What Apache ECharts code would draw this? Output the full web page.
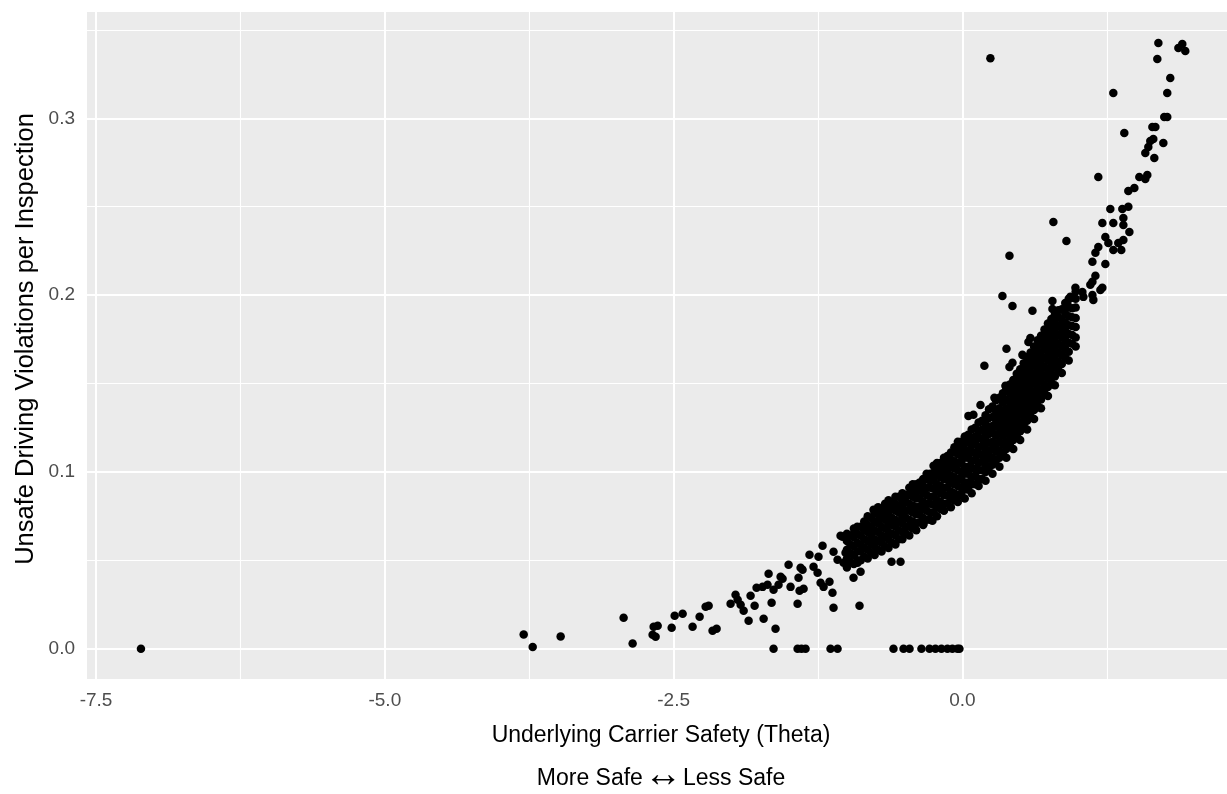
<!DOCTYPE html>
<html>
<head>
<meta charset="utf-8">
<title>Unsafe Driving Violations vs Carrier Safety</title>
<script src="https://cdn.jsdelivr.net/npm/echarts@6/dist/echarts.min.js"></script>
<style>
  html, body { margin: 0; padding: 0; background: #ffffff; }
  #chart { width: 1227px; height: 794px; }
</style>
</head>
<body>
<div id="chart"></div>
<script>
// Axis ticks and grid
const xTicks = [-7.5, -5.0, -2.5, 0.0];
const xMinorTicks = [-6.25, -3.75, -1.25, 1.25];
const yTicks = [0.0, 0.1, 0.2, 0.3];
const yMinorTicks = [0.05, 0.15, 0.25, 0.35];

// Carriers with no unsafe driving violations (theta)
const zeroTheta = [-7.111, -1.635, -1.427, -1.393, -1.358, -1.142, -1.081, -0.597, -0.510, -0.458,
  -0.355, -0.285, -0.234, -0.182, -0.130, -0.087, -0.043, -0.026];

// Sparse lower tail: [theta, violations per inspection]
const tailPoints = [
  [-3.798, 0.008], [-3.720, 0.001], [-3.478, 0.007], [-2.933, 0.0175], [-2.855, 0.003],
  [-2.673, 0.0124], [-2.682, 0.0079], [-2.656, 0.0068], [-2.638, 0.013], [-2.517, 0.0119],
  [-2.491, 0.0187], [-2.422, 0.0198], [-2.336, 0.0124], [-2.275, 0.0181], [-2.223, 0.0237],
  [-2.197, 0.0243], [-2.163, 0.0102], [-2.128, 0.0113], [-2.007, 0.0254], [-1.964, 0.0305],
  [-1.946, 0.0277], [-1.920, 0.0249], [-1.894, 0.0215], [-1.851, 0.0158], [-1.834, 0.030],
  [-1.799, 0.0243], [-1.782, 0.0345], [-1.721, 0.017], [-1.730, 0.035], [-1.687, 0.0362],
  [-1.678, 0.0424], [-1.652, 0.026], [-1.635, 0.0334], [-1.618, 0.0113], [-1.592, 0.0362],
  [-1.557, 0.0396], [-1.574, 0.0407], [-1.505, 0.0475], [-1.488, 0.035], [-1.427, 0.0254],
  [-1.419, 0.0401], [-1.410, 0.0328], [-1.401, 0.0458], [-1.384, 0.0447], [-1.375, 0.0339],
  [-1.324, 0.0531], [-1.289, 0.0464], [-1.254, 0.043], [-1.246, 0.052], [-1.228, 0.0373],
  [-1.211, 0.0582], [-1.202, 0.035], [-1.151, 0.0379], [-1.116, 0.0548], [-1.116, 0.0232],
  [-1.125, 0.0317], [-1.081, 0.0503], [-1.055, 0.0639], [-1.038, 0.0633], [-1.029, 0.0486],
  [-1.012, 0.0543], [-0.952, 0.0644], [-0.943, 0.0401], [-0.908, 0.0486], [-0.891, 0.0243],
  [-0.882, 0.0435], [-0.839, 0.0684], [-0.822, 0.0673], [-0.770, 0.0786], [-0.735, 0.0718],
  [-0.614, 0.0492], [-0.536, 0.0492], [-0.337, 0.0707], [-0.260, 0.0724]
];

// Dense core of the cloud, one column per theta value
const coreColumns = [
  [-1.00, [0.046, 0.051, 0.056, 0.061, 0.065]],
  [-0.94, [0.048, 0.053, 0.058, 0.063, 0.068]],
  [-0.88, [0.050, 0.055, 0.059, 0.064, 0.069]],
  [-0.82, [0.051, 0.056, 0.061, 0.066, 0.070, 0.075]],
  [-0.76, [0.053, 0.058, 0.062, 0.067, 0.072, 0.077]],
  [-0.70, [0.055, 0.060, 0.064, 0.069, 0.074, 0.079]],
  [-0.64, [0.057, 0.062, 0.066, 0.071, 0.076, 0.080, 0.084]],
  [-0.58, [0.059, 0.064, 0.069, 0.073, 0.078, 0.082, 0.086]],
  [-0.52, [0.062, 0.066, 0.071, 0.075, 0.080, 0.084, 0.088]],
  [-0.46, [0.064, 0.069, 0.073, 0.078, 0.082, 0.087, 0.091]],
  [-0.40, [0.067, 0.071, 0.076, 0.080, 0.085, 0.089, 0.093]],
  [-0.34, [0.070, 0.074, 0.079, 0.083, 0.088, 0.092, 0.096]],
  [-0.28, [0.073, 0.077, 0.082, 0.086, 0.091, 0.095, 0.099]],
  [-0.22, [0.075, 0.080, 0.084, 0.089, 0.093, 0.098, 0.102, 0.105]],
  [-0.16, [0.078, 0.082, 0.087, 0.091, 0.096, 0.100, 0.104, 0.108]],
  [-0.10, [0.080, 0.085, 0.089, 0.094, 0.098, 0.103, 0.107, 0.111]],
  [-0.04, [0.083, 0.087, 0.092, 0.096, 0.101, 0.105, 0.110, 0.114, 0.117]],
  [0.02, [0.085, 0.090, 0.094, 0.099, 0.103, 0.108, 0.112, 0.116, 0.120]],
  [0.08, [0.088, 0.093, 0.097, 0.102, 0.106, 0.111, 0.115, 0.119, 0.124]],
  [0.14, [0.092, 0.096, 0.101, 0.105, 0.110, 0.114, 0.119, 0.123, 0.128]],
  [0.20, [0.095, 0.100, 0.104, 0.109, 0.113, 0.118, 0.122, 0.127, 0.132]],
  [0.26, [0.099, 0.104, 0.108, 0.113, 0.117, 0.122, 0.126, 0.131, 0.137]],
  [0.32, [0.103, 0.108, 0.112, 0.117, 0.122, 0.126, 0.131, 0.136, 0.142]],
  [0.38, [0.108, 0.113, 0.117, 0.122, 0.127, 0.131, 0.136, 0.141, 0.147]],
  [0.44, [0.113, 0.118, 0.122, 0.127, 0.132, 0.137, 0.142, 0.147, 0.152]],
  [0.50, [0.118, 0.123, 0.128, 0.133, 0.138, 0.143, 0.148, 0.153, 0.158]],
  [0.56, [0.124, 0.129, 0.134, 0.139, 0.144, 0.149, 0.154, 0.159, 0.165]],
  [0.62, [0.130, 0.135, 0.140, 0.145, 0.150, 0.155, 0.160, 0.166, 0.171]],
  [0.68, [0.136, 0.141, 0.146, 0.151, 0.156, 0.161, 0.166, 0.172, 0.177]],
  [0.74, [0.143, 0.148, 0.153, 0.158, 0.163, 0.168, 0.173, 0.178, 0.184]],
  [0.80, [0.149, 0.154, 0.159, 0.164, 0.169, 0.174, 0.179, 0.184, 0.189]],
  [0.86, [0.156, 0.161, 0.166, 0.171, 0.176, 0.181, 0.186, 0.192]],
  [0.92, [0.163, 0.168, 0.173, 0.178, 0.183, 0.188, 0.193, 0.198]],
  [0.98, [0.171, 0.176, 0.182, 0.187, 0.193, 0.198, 0.202]]
];

// Core carriers lying between the columns above
const coreBetween = [
  [-0.97, [0.049, 0.054, 0.059, 0.064]],
  [-0.91, [0.050, 0.055, 0.060, 0.065, 0.069]],
  [-0.85, [0.052, 0.057, 0.062, 0.067, 0.072]],
  [-0.79, [0.054, 0.059, 0.064, 0.069, 0.074]],
  [-0.73, [0.056, 0.061, 0.066, 0.071, 0.076, 0.080]],
  [-0.67, [0.058, 0.063, 0.068, 0.073, 0.077, 0.082]],
  [-0.61, [0.060, 0.065, 0.070, 0.074, 0.079, 0.083]],
  [-0.55, [0.062, 0.067, 0.072, 0.077, 0.081, 0.086]],
  [-0.49, [0.065, 0.069, 0.074, 0.078, 0.083, 0.087]],
  [-0.43, [0.068, 0.072, 0.077, 0.081, 0.086, 0.090, 0.093]],
  [-0.37, [0.0715, 0.076, 0.0805, 0.085, 0.0895, 0.094]],
  [-0.31, [0.073, 0.078, 0.082, 0.087, 0.091, 0.096, 0.099]],
  [-0.25, [0.077, 0.0815, 0.086, 0.0905, 0.095, 0.0995, 0.1035]],
  [-0.19, [0.079, 0.083, 0.088, 0.092, 0.097, 0.101, 0.105]],
  [-0.13, [0.082, 0.0865, 0.091, 0.0955, 0.100, 0.1045, 0.109]],
  [-0.07, [0.084, 0.088, 0.093, 0.097, 0.102, 0.106, 0.111, 0.114]],
  [-0.01, [0.087, 0.091, 0.096, 0.100, 0.105, 0.109, 0.113, 0.117]],
  [0.05, [0.090, 0.094, 0.099, 0.103, 0.108, 0.112, 0.117, 0.121]],
  [0.11, [0.093, 0.098, 0.102, 0.107, 0.111, 0.116, 0.120, 0.125]],
  [0.17, [0.096, 0.101, 0.106, 0.110, 0.115, 0.119, 0.124, 0.129]],
  [0.23, [0.1025, 0.1075, 0.1115, 0.1165, 0.1215, 0.1255, 0.1305, 0.1355]],
  [0.29, [0.1065, 0.1115, 0.1155, 0.1205, 0.1255, 0.1295, 0.1345, 0.1405]],
  [0.35, [0.1105, 0.1155, 0.1205, 0.1245, 0.1295, 0.1345, 0.1395, 0.1445]],
  [0.41, [0.1155, 0.1205, 0.1245, 0.1295, 0.1345, 0.1395, 0.1445, 0.1495]],
  [0.47, [0.1205, 0.1255, 0.1305, 0.1355, 0.1405, 0.1455, 0.1505, 0.1555]],
  [0.53, [0.1265, 0.1315, 0.1355, 0.1405, 0.1455, 0.1505, 0.1555, 0.1615]],
  [0.59, [0.1315, 0.1365, 0.1415, 0.1465, 0.1515, 0.1565, 0.1625, 0.1675]],
  [0.65, [0.1375, 0.1425, 0.1475, 0.1525, 0.1575, 0.1635, 0.1685, 0.1745]],
  [0.71, [0.1445, 0.1495, 0.1545, 0.1595, 0.1645, 0.1695, 0.1745, 0.1805]],
  [0.77, [0.1505, 0.1555, 0.1605, 0.1655, 0.1705, 0.1765, 0.1815, 0.1865]],
  [0.83, [0.1575, 0.1625, 0.1675, 0.1725, 0.1775, 0.1825, 0.1875, 0.1915]],
  [0.89, [0.1645, 0.1695, 0.1745, 0.1795, 0.1845, 0.1895, 0.1955]],
  [0.95, [0.1725, 0.1775, 0.1825, 0.1875, 0.1925, 0.1985]]
];

// Scattered points around and above the core
const upperPoints = [
  [0.242, 0.334], [1.306, 0.3143], [1.176, 0.2668], [0.787, 0.2414], [0.900, 0.2306],
  [0.407, 0.2222], [0.346, 0.1995], [0.433, 0.1939], [0.606, 0.1911], [0.779, 0.1967],
  [0.779, 0.1922], [0.381, 0.1696], [0.190, 0.160], [0.407, 0.1594], [0.433, 0.1617],
  [0.519, 0.1662], [0.571, 0.1735], [0.588, 0.1758], [0.156, 0.1379], [0.277, 0.1419],
  [0.372, 0.1487], [0.052, 0.1317], [0.095, 0.1323],
  [1.696, 0.3426], [1.903, 0.342], [1.869, 0.3397], [1.929, 0.338], [1.687, 0.3335],
  [1.799, 0.3228], [1.773, 0.3143], [1.773, 0.3007], [1.747, 0.3007], [1.644, 0.2951],
  [1.670, 0.2951], [1.401, 0.2917], [1.626, 0.2872], [1.652, 0.2883], [1.739, 0.286],
  [1.583, 0.2804], [1.609, 0.2838], [1.661, 0.2776], [1.531, 0.2668], [1.600, 0.2679],
  [1.583, 0.2657], [1.436, 0.2589], [1.488, 0.2606], [1.280, 0.2487], [1.384, 0.2487],
  [1.436, 0.2499], [1.211, 0.2408], [1.306, 0.2408], [1.393, 0.2436], [1.393, 0.2397],
  [1.445, 0.2357], [1.237, 0.2329], [1.263, 0.2295], [1.176, 0.2272], [1.349, 0.2295],
  [1.393, 0.2312], [1.306, 0.2255], [1.375, 0.2255], [1.151, 0.2239], [1.125, 0.2188],
  [1.237, 0.2176], [1.151, 0.2109], [1.125, 0.2075], [1.194, 0.2029], [0.978, 0.2041],
  [1.038, 0.2018], [0.934, 0.199], [1.125, 0.2001], [1.211, 0.2041], [1.133, 0.1973],
  [1.047, 0.199], [0.908, 0.1956], [1.107, 0.2058]
];

// Assemble scatter data
const pointData = [];
zeroTheta.forEach(t => pointData.push([t, 0]));
tailPoints.forEach(p => pointData.push(p));
coreColumns.concat(coreBetween).forEach(([t, rates]) => rates.forEach(r => pointData.push([t, r])));
upperPoints.forEach(p => pointData.push(p));

const FONT = "'Liberation Sans', Arial, sans-serif";
const PANEL_BG = '#EBEBEB';

const gridLines = [];
xTicks.forEach(v => gridLines.push({ xAxis: v, lineStyle: { width: 2 } }));
xMinorTicks.forEach(v => gridLines.push({ xAxis: v, lineStyle: { width: 1.1 } }));
yTicks.forEach(v => gridLines.push({ yAxis: v, lineStyle: { width: 2 } }));
yMinorTicks.forEach(v => gridLines.push({ yAxis: v, lineStyle: { width: 1.1 } }));

const chart = echarts.init(document.getElementById('chart'), null, { renderer: 'canvas' });

chart.setOption({
  animation: false,
  backgroundColor: '#ffffff',
  grid: {
    left: 87, right: 0, top: 12, bottom: 115,
    show: true, backgroundColor: PANEL_BG, borderWidth: 0
  },
  xAxis: {
    type: 'value',
    min: -7.578, max: 2.29,
    axisLine: { show: false },
    splitLine: { show: false },
    axisTick: { show: true, customValues: xTicks, length: 5, lineStyle: { color: '#333333', width: 1 } },
    axisLabel: {
      customValues: xTicks, margin: 12, color: '#4D4D4D', fontSize: 19, fontFamily: FONT,
      formatter: v => v.toFixed(1)
    }
  },
  yAxis: {
    type: 'value',
    min: -0.0171, max: 0.3601,
    axisLine: { show: false },
    splitLine: { show: false },
    axisTick: { show: true, customValues: yTicks, length: 5, lineStyle: { color: '#333333', width: 1 } },
    axisLabel: {
      customValues: yTicks, margin: 12, color: '#4D4D4D', fontSize: 19, fontFamily: FONT,
      formatter: v => v.toFixed(1)
    }
  },
  graphic: [
    {
      type: 'text', x: 26, y: 339, rotation: Math.PI / 2, silent: true,
      style: { text: 'Unsafe Driving Violations per Inspection', fill: '#000000', font: '25.5px ' + FONT, align: 'center', verticalAlign: 'middle' }
    },
    {
      type: 'text', x: 661, y: 736, silent: true,
      style: { text: 'Underlying Carrier Safety (Theta)', fill: '#000000', font: '23px ' + FONT, align: 'center', verticalAlign: 'middle' }
    },
    {
      type: 'text', x: 661, y: 779, silent: true,
      style: {
        text: '{t|More Safe}{a|\u2194}{t|Less Safe}',
        align: 'center', verticalAlign: 'middle',
        rich: {
          t: { fill: '#000000', fontSize: 23, fontFamily: FONT },
          a: { fill: '#000000', fontSize: 38, fontFamily: FONT, padding: [0, 1, 6, 1] }
        }
      }
    }
  ],
  series: [
    {
      type: 'scatter',
      name: 'grid',
      data: [],
      z: 1,
      silent: true,
      markLine: {
        silent: true,
        animation: false,
        z: 1,
        symbol: ['none', 'none'],
        label: { show: false },
        lineStyle: { color: '#ffffff', type: 'solid' },
        data: gridLines
      }
    },
    {
      type: 'scatter',
      name: 'carriers',
      data: pointData,
      zlevel: 1,
      z: 3,
      symbol: 'circle',
      symbolSize: 8.5,
      itemStyle: { color: '#000000', opacity: 1 }
    }
  ]
});
</script>
</body>
</html>
